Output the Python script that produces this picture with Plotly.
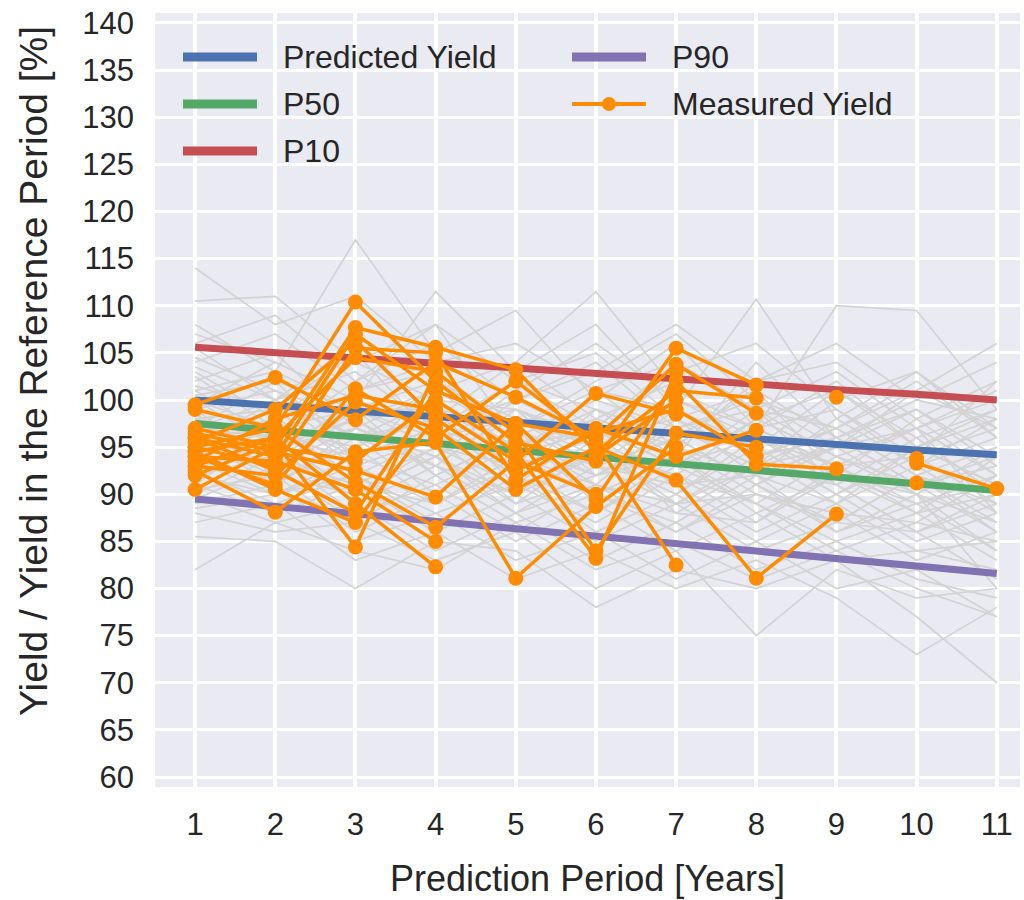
import plotly.graph_objects as go

years = [1, 2, 3, 4, 5, 6, 7, 8, 9, 10, 11]
x_tick_labels = ["1", "2", "3", "4", "5", "6", "7", "8", "9", "10", "11"]
y_tick_values = list(range(60, 141, 5))

predicted_yield = [100.0, 99.4, 98.8, 98.3, 97.7, 97.1, 96.5, 95.9, 95.3, 94.7, 94.2]
p50 = [97.5, 96.8, 96.1, 95.4, 94.7, 94.0, 93.2, 92.5, 91.8, 91.1, 90.4]
p10 = [105.6, 105.0, 104.5, 103.9, 103.4, 102.8, 102.2, 101.7, 101.1, 100.6, 100.0]
p90 = [89.5, 88.7, 87.9, 87.1, 86.3, 85.6, 84.8, 84.0, 83.2, 82.4, 81.6]

# simulated yield paths (grey)
sim_01 = [114.0, 108.0, 111.0, 104.0, 106.0, 101.0, 104.0, 99.0, 103.0, 97.0, 101.0]
sim_02 = [110.5, 111.0, 104.0, 108.0, 102.0, 105.0, 98.0, 101.0, 96.0, 99.0, 94.0]
sim_03 = [108.0, 103.0, 117.0, 105.0, 109.5, 100.0, 106.0, 97.0, 102.0, 95.0, 98.0]
sim_04 = [107.0, 104.0, 100.0, 111.5, 103.0, 108.0, 99.0, 110.7, 98.0, 103.0, 96.0]
sim_05 = [105.5, 100.0, 106.0, 98.0, 104.0, 111.5, 101.0, 97.0, 110.0, 109.5, 99.0]
sim_06 = [104.0, 107.0, 101.0, 103.0, 97.0, 102.0, 107.0, 100.0, 95.0, 101.0, 106.0]
sim_07 = [103.0, 98.0, 104.0, 100.0, 99.0, 96.0, 103.0, 106.0, 99.0, 94.0, 102.0]
sim_08 = [102.0, 105.0, 97.0, 101.0, 104.0, 98.0, 95.0, 102.0, 104.0, 98.0, 92.0]
sim_09 = [101.0, 96.0, 102.0, 108.0, 96.0, 100.0, 97.0, 93.0, 100.0, 103.0, 97.0]
sim_10 = [100.5, 102.0, 99.0, 95.0, 101.0, 106.0, 100.0, 96.0, 93.0, 97.0, 100.0]
sim_11 = [100.0, 97.0, 95.0, 99.0, 94.0, 97.0, 104.0, 99.0, 97.0, 92.0, 95.0]
sim_12 = [99.0, 101.0, 98.0, 93.0, 99.0, 95.0, 92.0, 98.0, 101.0, 96.0, 90.0]
sim_13 = [98.5, 94.0, 100.0, 97.0, 92.0, 99.0, 96.0, 91.0, 95.0, 99.0, 93.0]
sim_14 = [98.0, 99.0, 93.0, 102.0, 97.0, 93.0, 99.0, 95.0, 90.0, 94.0, 97.0]
sim_15 = [97.5, 95.0, 97.0, 94.0, 100.0, 96.0, 91.0, 97.0, 93.0, 89.0, 92.0]
sim_16 = [97.0, 100.0, 96.0, 98.0, 93.0, 101.0, 95.0, 92.0, 98.0, 93.0, 88.0]
sim_17 = [96.5, 93.0, 99.0, 92.0, 96.0, 91.0, 98.0, 94.0, 89.0, 95.0, 91.0]
sim_18 = [96.0, 97.0, 92.0, 96.0, 98.0, 94.0, 90.0, 96.0, 92.0, 88.0, 94.0]
sim_19 = [95.5, 92.0, 95.0, 99.0, 91.0, 97.0, 93.0, 89.0, 94.0, 91.0, 86.0]
sim_20 = [95.0, 98.0, 94.0, 91.0, 95.0, 92.0, 96.0, 91.0, 87.0, 92.0, 89.0]
sim_21 = [94.5, 91.0, 97.0, 94.0, 89.0, 95.0, 89.0, 93.0, 91.0, 86.0, 90.0]
sim_22 = [94.0, 96.0, 90.0, 95.0, 93.0, 88.0, 94.0, 88.0, 92.0, 89.0, 84.0]
sim_23 = [93.5, 90.0, 93.0, 89.0, 94.0, 90.0, 87.0, 92.0, 86.0, 90.0, 87.0]
sim_24 = [93.0, 95.0, 89.0, 93.0, 88.0, 93.0, 91.0, 86.0, 90.0, 85.0, 88.0]
sim_25 = [92.5, 89.0, 92.0, 88.0, 91.0, 87.0, 92.0, 89.0, 85.0, 88.0, 83.0]
sim_26 = [92.0, 94.0, 88.0, 91.0, 86.0, 91.0, 86.0, 90.0, 88.0, 83.0, 86.0]
sim_27 = [91.0, 88.0, 91.0, 86.0, 90.0, 85.0, 89.0, 84.0, 87.0, 86.0, 81.0]
sim_28 = [90.5, 92.0, 86.0, 90.0, 85.0, 89.0, 84.0, 88.0, 83.0, 84.0, 85.0]
sim_29 = [90.0, 87.0, 89.0, 84.0, 88.0, 83.0, 87.0, 82.0, 85.0, 81.0, 79.0]
sim_30 = [89.0, 91.0, 85.0, 88.0, 83.0, 86.0, 81.0, 85.0, 80.0, 82.0, 77.0]
sim_31 = [88.0, 86.0, 87.0, 83.0, 86.0, 80.0, 84.0, 75.0, 82.0, 79.0, 80.0]
sim_32 = [87.0, 89.0, 83.0, 86.0, 81.0, 84.0, 80.0, 83.0, 79.0, 73.0, 78.0]
sim_33 = [85.5, 85.0, 80.0, 85.0, 84.0, 78.0, 82.0, 80.0, 83.0, 77.0, 70.0]
sim_34 = [82.0, 87.0, 84.0, 82.0, 87.0, 82.0, 85.0, 81.0, 84.0, 80.0, 77.0]
sim_35 = [106.0, 109.0, 102.0, 106.0, 100.0, 103.0, 108.0, 102.0, 106.0, 100.0, 104.0]
sim_36 = [101.5, 99.0, 105.0, 96.0, 102.0, 99.0, 94.0, 104.0, 96.0, 100.0, 98.0]
sim_37 = [97.0, 96.0, 101.0, 104.0, 95.0, 98.0, 102.0, 94.0, 97.0, 102.0, 96.0]
sim_38 = [95.0, 100.0, 94.0, 97.0, 99.0, 92.0, 97.0, 99.0, 91.0, 96.0, 99.0]
sim_39 = [93.0, 94.0, 98.0, 92.0, 96.0, 93.0, 89.0, 94.0, 96.0, 91.0, 93.0]
sim_40 = [91.5, 96.0, 90.0, 94.0, 90.0, 94.0, 92.0, 87.0, 93.0, 94.0, 89.0]
sim_41 = [89.5, 93.0, 87.0, 92.0, 87.0, 90.0, 86.0, 91.0, 86.0, 89.0, 91.0]
sim_42 = [88.5, 90.0, 92.0, 87.0, 92.0, 86.0, 90.0, 85.0, 89.0, 84.0, 82.0]
sim_43 = [99.5, 104.0, 100.0, 97.0, 94.0, 97.0, 93.0, 98.0, 94.0, 97.0, 92.0]
sim_44 = [102.5, 97.0, 99.0, 102.0, 98.0, 95.0, 100.0, 97.0, 99.0, 93.0, 96.0]
sim_45 = [96.0, 91.0, 96.0, 90.0, 97.0, 89.0, 95.0, 90.0, 88.0, 87.0, 85.0]
sim_46 = [104.5, 101.0, 96.0, 100.0, 95.0, 99.0, 96.0, 101.0, 92.0, 98.0, 102.0]
sim_47 = [98.0, 92.0, 95.0, 89.0, 93.0, 96.0, 88.0, 93.0, 95.0, 90.0, 80.0]
sim_48 = [91.0, 97.0, 93.0, 96.0, 89.0, 92.0, 94.0, 89.0, 84.0, 87.0, 92.0]
sim_49 = [100.0, 95.0, 98.0, 101.0, 96.0, 92.0, 97.0, 93.0, 97.0, 92.0, 87.0]
sim_50 = [97.0, 102.0, 94.0, 97.0, 102.0, 97.0, 93.0, 99.0, 94.0, 90.0, 95.0]
sim_51 = [94.0, 97.0, 96.0, 93.0, 90.0, 96.0, 98.0, 92.0, 89.0, 93.0, 98.0]
sim_52 = [92.0, 90.0, 94.0, 97.0, 92.0, 88.0, 93.0, 96.0, 91.0, 86.0, 89.0]
sim_53 = [90.0, 94.0, 91.0, 89.0, 94.0, 91.0, 88.0, 87.0, 92.0, 90.0, 84.0]
sim_54 = [103.5, 100.0, 103.0, 97.0, 100.0, 104.0, 97.0, 100.0, 97.0, 101.0, 97.0]
sim_55 = [96.0, 98.0, 91.0, 95.0, 91.0, 94.0, 90.0, 95.0, 90.0, 95.0, 91.0]
sim_56 = [99.0, 93.0, 97.0, 94.0, 98.0, 93.0, 96.0, 91.0, 96.0, 91.0, 94.0]
sim_57 = [93.0, 92.0, 90.0, 94.0, 88.0, 91.0, 89.0, 90.0, 87.0, 92.0, 86.0]
sim_58 = [101.0, 103.0, 99.0, 99.0, 97.0, 101.0, 99.0, 95.0, 101.0, 95.0, 99.0]
sim_59 = [95.0, 95.0, 99.0, 96.0, 94.0, 90.0, 94.0, 97.0, 93.0, 88.0, 90.0]
sim_60 = [98.0, 96.0, 94.0, 99.0, 95.0, 97.0, 91.0, 92.0, 95.0, 97.0, 88.0]
simulations = [sim_01, sim_02, sim_03, sim_04, sim_05, sim_06, sim_07, sim_08,
               sim_09, sim_10, sim_11, sim_12, sim_13, sim_14, sim_15, sim_16,
               sim_17, sim_18, sim_19, sim_20, sim_21, sim_22, sim_23, sim_24,
               sim_25, sim_26, sim_27, sim_28, sim_29, sim_30, sim_31, sim_32,
               sim_33, sim_34, sim_35, sim_36, sim_37, sim_38, sim_39, sim_40,
               sim_41, sim_42, sim_43, sim_44, sim_45, sim_46, sim_47, sim_48,
               sim_49, sim_50, sim_51, sim_52, sim_53, sim_54, sim_55, sim_56,
               sim_57, sim_58, sim_59, sim_60]

# measured yields (orange), None = no measurement
N = None
meas_a = [99.5, 102.4, 97.9, 104.0, 100.3, 96.0, 103.8, 98.6, N, N, N]
meas_b = [99.0, 97.0, 110.4, 102.0, 95.5, 93.5, 105.5, 101.6, N, N, N]
meas_c = [97.0, 95.0, 107.7, 105.6, 103.2, 94.5, 101.0, 100.2, N, N, N]
meas_d = [96.0, 94.0, 107.0, 101.0, 97.5, 89.5, 102.0, 93.2, 92.7, N, N]
meas_e = [95.5, 99.0, 106.3, 98.0, 92.5, 96.5, 99.0, 94.0, N, N, N]
meas_f = [95.0, 93.0, 105.5, 105.0, 91.5, 97.0, 94.0, 96.8, N, N, N]
meas_g = [94.5, 96.0, 104.5, 103.0, 96.5, 84.0, 96.5, 95.0, N, N, N]
meas_h = [94.0, 91.0, 101.2, 96.0, 102.0, 95.5, 82.5, N, N, N, N]
meas_i = [93.5, 98.0, 100.5, 99.0, 93.5, 100.7, 98.5, N, N, N, N]
meas_j = [93.0, 92.0, 99.8, 97.0, 90.5, 95.0, 91.5, 81.1, 87.9, N, N]
meas_k = [92.5, 88.1, 94.5, 95.5, 81.1, 88.7, 95.0, N, N, N, N]
meas_l = [90.5, 95.0, 93.5, 100.0, 94.5, 83.2, 103.0, N, N, N, N]
meas_m = [96.5, 94.5, 92.5, 89.7, 97.5, 96.0, N, N, N, N, N]
meas_n = [95.0, 97.0, 91.3, 86.5, 93.5, 90.0, N, N, N, N, N]
meas_o = [94.0, 93.5, 90.5, 85.0, N, 94.0, 100.0, N, 100.3, N, N]
meas_p = [93.0, 96.0, 89.0, 82.3, N, N, N, N, N, 93.8, N]
meas_q = [96.0, 92.5, 88.0, 101.0, N, N, N, N, N, 93.3, 90.6]
meas_r = [94.5, 90.5, 87.0, 98.2, N, N, N, N, N, 91.2, N]
meas_s = [92.0, 95.5, 84.4, 103.0, N, N, N, N, N, N, N]
measured = [meas_a, meas_b, meas_c, meas_d, meas_e, meas_f, meas_g, meas_h,
            meas_i, meas_j, meas_k, meas_l, meas_m, meas_n, meas_o, meas_p,
            meas_q, meas_r, meas_s]

C_BLUE = "#4C72B0"
C_GREEN = "#55A868"
C_RED = "#C44E52"
C_PURPLE = "#8172B2"
C_ORANGE = "#FF8C00"
C_GREY = "#D3D3D3"
TXT = "#262626"
FONT = "Liberation Sans, Arial, sans-serif"

fig = go.Figure()
for s in simulations:
    fig.add_trace(go.Scatter(x=years, y=s, mode="lines",
                             line=dict(color=C_GREY, width=1.7),
                             showlegend=False, hoverinfo="skip"))

for name, vals, col in [("Predicted Yield", predicted_yield, C_BLUE),
                        ("P50", p50, C_GREEN),
                        ("P10", p10, C_RED),
                        ("P90", p90, C_PURPLE)]:
    fig.add_trace(go.Scatter(x=years, y=vals, mode="lines", name=name,
                             line=dict(color=col, width=7), showlegend=False))

for i, m in enumerate(measured):
    fig.add_trace(go.Scatter(x=years, y=m, mode="lines+markers",
                             name="Measured Yield",
                             line=dict(color=C_ORANGE, width=3.5),
                             marker=dict(color=C_ORANGE, size=15),
                             connectgaps=False, showlegend=False))

# page body margin is removed in post_script, so page pixels == figure pixels
W, H = 1024, 900
L, R, T, B = 155, 1020, 13, 787
def px(xp):
    return (xp - L) / (R - L)
def py(yp):
    return (B - yp) / (B - T)

legend_items = [
    ("Predicted Yield", C_BLUE, 183, 257, 281, 57, False),
    ("P50", C_GREEN, 183, 257, 281, 104, False),
    ("P10", C_RED, 183, 257, 281, 151, False),
    ("P90", C_PURPLE, 572, 646, 670, 57, False),
    ("Measured Yield", C_ORANGE, 572, 646, 670, 104, True),
]
shapes = []
annotations = []
for label, col, x0, x1, xt, yc, has_marker in legend_items:
    shapes.append(dict(type="line", xref="paper", yref="paper",
                       x0=px(x0), x1=px(x1), y0=py(yc), y1=py(yc),
                       line=dict(color=col, width=4 if has_marker else 9)))
    if has_marker:
        cx = (x0 + x1) / 2
        shapes.append(dict(type="circle", xref="paper", yref="paper",
                           x0=px(cx - 7), x1=px(cx + 7),
                           y0=py(yc + 7), y1=py(yc - 7),
                           fillcolor=col, line=dict(color=col, width=0)))
    annotations.append(dict(text=label, xref="paper", yref="paper",
                            x=px(xt), y=py(yc), xanchor="left", yanchor="middle",
                            showarrow=False, font=dict(size=32, color=TXT, family=FONT)))

annotations.append(dict(text="Yield / Yield in the Reference Period [%]",
                        xref="paper", yref="paper", x=px(33), y=py(371),
                        xanchor="center", yanchor="middle", textangle=-90,
                        showarrow=False, font=dict(size=39, color=TXT, family=FONT)))

fig.update_layout(
    width=W, height=H,
    margin=dict(l=L, r=W - R, t=T, b=H - B, autoexpand=False),
    paper_bgcolor="white", plot_bgcolor="#EAEAF2",
    font=dict(family=FONT, color=TXT, size=30),
    showlegend=False,
    shapes=shapes, annotations=annotations,
    xaxis=dict(range=[0.5, 11.29], tickvals=years, ticktext=x_tick_labels,
               automargin=False, ticklabeloverflow="allow",
               showgrid=True, gridcolor="white", gridwidth=3.5,
               zeroline=False, showline=False, ticks="",
               tickfont=dict(size=31, color=TXT), ticklabelstandoff=16,
               title=dict(text="Prediction Period [Years]", font=dict(size=36, color=TXT),
                          standoff=24)),
    yaxis=dict(range=[58.94, 141.06], tickvals=y_tick_values,
               automargin=False, ticklabeloverflow="allow",
               showgrid=True, gridcolor="white", gridwidth=3,
               zeroline=False, showline=False, ticks="",
               tickfont=dict(size=31, color=TXT), ticklabelstandoff=20),
)

fig.write_html("out.html",
               config={"displayModeBar": False},
               post_script="document.body.style.margin='0';document.body.style.overflow='hidden';")
